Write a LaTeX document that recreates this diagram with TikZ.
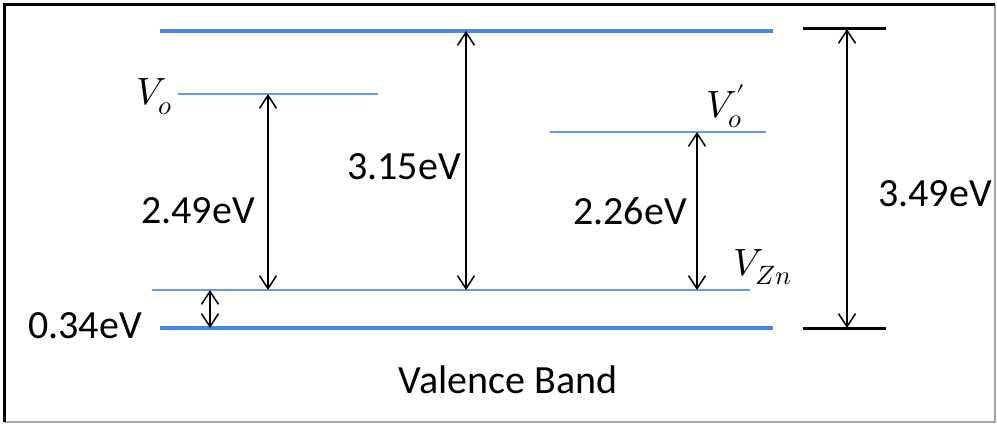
\documentclass[tikz,border=0pt]{standalone}
\usepackage{unicode-math}
\setmainfont{Carlito}
\setmathfont{Latin Modern Math}
\usetikzlibrary{arrows.meta}
\definecolor{bandblue}{RGB}{74,134,232}
\definecolor{levelblue}{RGB}{100,152,240}
\tikzset{
  band/.style={draw=bandblue, line width=4pt},
  level/.style={draw=levelblue, line width=1.6pt},
  gaparrow/.style={draw=black, line width=1.5pt, {Straight Barb[length=13pt,width=17pt,line width=1.5pt]}-{Straight Barb[length=13pt,width=17pt,line width=1.5pt]}},
  bar/.style={draw=black, line width=3pt},
  lbl/.style={font=\fontsize{40}{48}\selectfont, anchor=base, inner sep=0pt},
  mlbl/.style={font=\fontsize{38}{46}\selectfont, anchor=base west, inner sep=0pt}
}
\begin{document}
\begin{tikzpicture}[x=1pt,y=-1pt]
\useasboundingbox (0,0) rectangle (997,425);
\fill[white] (0,0) rectangle (997,425);
% frame
\draw[gray!70, line width=2pt] (995,5) -- (995,422) -- (4,422);
\draw[black, line width=3pt] (4,422) -- (4,5) -- (995,5);
% levels
\coordinate (cbL) at (160,31); \coordinate (cbR) at (773,31);
\coordinate (voL) at (178,94); \coordinate (voR) at (378,94);
\coordinate (vpL) at (550,132); \coordinate (vpR) at (766,132);
\coordinate (znL) at (152,290); \coordinate (znR) at (750,290);
\coordinate (vbL) at (160,328); \coordinate (vbR) at (773,328);
\draw[band] (cbL) -- (cbR);
\draw[band] (vbL) -- (vbR);
\draw[level] (voL) -- (voR);
\draw[level] (vpL) -- (vpR);
\draw[level] (znL) -- (znR);
% 3.49 bars
\coordinate (tbL) at (803,29); \coordinate (tbR) at (886,29);
\coordinate (bbL) at (803,328); \coordinate (bbR) at (886,328);
\draw[bar] (tbL) -- (tbR);
\draw[bar] (bbL) -- (bbR);
\coordinate (a1t) at (847,29); \coordinate (a1b) at (847,328);
\draw[gaparrow] (a1t) -- (a1b);
% arrows
\coordinate (a2t) at (268,94); \coordinate (a2b) at (268,290);
\draw[gaparrow] (a2t) -- (a2b);
\coordinate (a3t) at (466,31); \coordinate (a3b) at (466,290);
\draw[gaparrow] (a3t) -- (a3b);
\coordinate (a4t) at (697,132); \coordinate (a4b) at (697,290);
\draw[gaparrow] (a4t) -- (a4b);
\coordinate (a5t) at (210,290); \coordinate (a5b) at (210,328);
\draw[gaparrow] (a5t) -- (a5b);
% labels
\node[lbl] (l349) at (935,207) {3.49eV};
\node[lbl] (l249) at (198,223) {2.49eV};
\node[lbl] (l315) at (404,180) {3.15eV};
\node[lbl] (l226) at (630,225) {2.26eV};
\node[lbl] (l034) at (85,338) {0.34eV};
\node[lbl] (lvb) at (508,393) {Valence Band};
\node[mlbl] (lvo) at (136,105) {$V_o$};
\node[mlbl] (lvp) at (706,118) {$V_o'$};
\node[mlbl] (lzn) at (733,275) {$V_{Zn}$};
\end{tikzpicture}
\end{document}
